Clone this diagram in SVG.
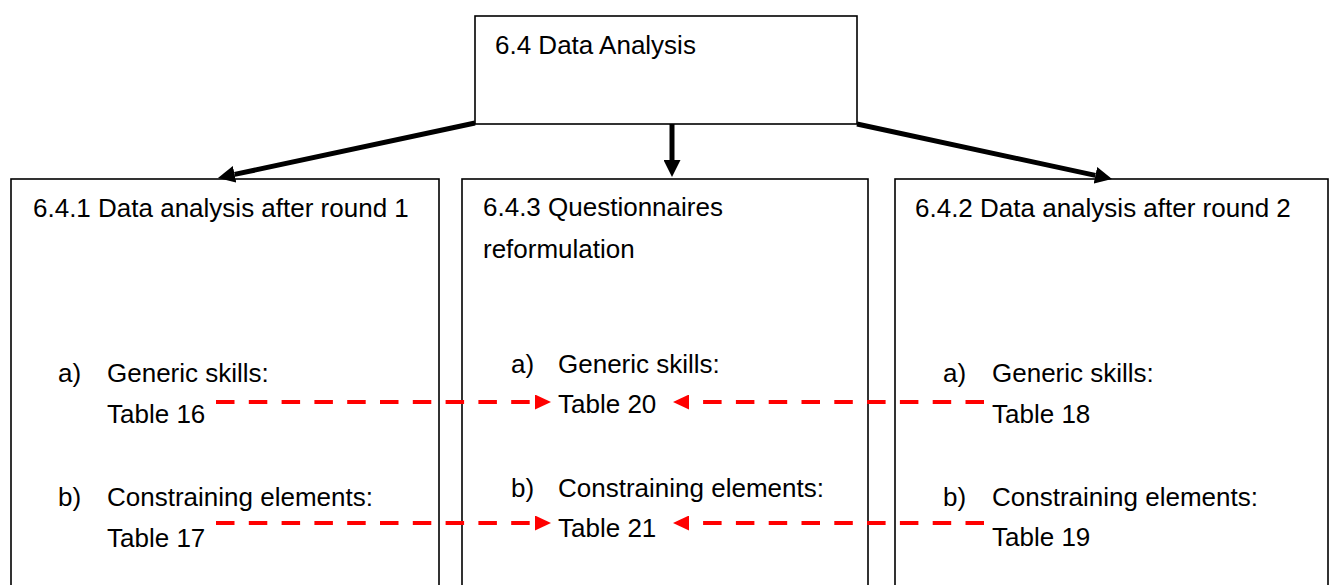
<svg xmlns="http://www.w3.org/2000/svg" width="1330" height="585" viewBox="0 0 1330 585">
<style>
.box{fill:#fff;stroke:#000;stroke-width:1.6}
.t{font-family:"Liberation Sans",Arial,sans-serif;font-size:26px;fill:#000}
.blk{stroke:#000;stroke-width:5;fill:none}
.red{stroke:#f00;stroke-width:4;fill:none;stroke-dasharray:18.5 14.3}
</style>
<defs>
<marker id="ab" markerUnits="userSpaceOnUse" viewBox="0 0 17 17" refX="0" refY="8.5" markerWidth="17" markerHeight="17" orient="auto">
<path d="M0,0 L17,8.5 L0,17 z" fill="#000"/>
</marker>
<marker id="ar" markerUnits="userSpaceOnUse" viewBox="0 0 16 15" refX="0" refY="7.5" markerWidth="16" markerHeight="15" orient="auto">
<path d="M0,0 L16,7.5 L0,15 z" fill="#f00"/>
</marker>
</defs>
<g id="node-top">
<rect class="box" x="475" y="16" width="382" height="108"/>
<text class="t" x="495" y="54">6.4 Data Analysis</text>
</g>
<g id="node-641">
<rect class="box" x="11" y="179" width="428" height="430"/>
<text class="t" x="33" y="217">6.4.1 Data analysis after round 1</text>
<text class="t" x="58" y="382">a)</text>
<text class="t" x="107" y="382">Generic skills:</text>
<text class="t" x="107" y="423">Table 16</text>
<text class="t" x="58" y="506">b)</text>
<text class="t" x="107" y="506">Constraining elements:</text>
<text class="t" x="107" y="547">Table 17</text>
</g>
<g id="node-643">
<rect class="box" x="462" y="179" width="406" height="430"/>
<text class="t" x="483" y="216">6.4.3 Questionnaires</text>
<text class="t" x="483" y="258">reformulation</text>
<text class="t" x="511" y="373">a)</text>
<text class="t" x="558" y="373">Generic skills:</text>
<text class="t" x="558" y="413">Table 20</text>
<text class="t" x="511" y="497">b)</text>
<text class="t" x="558" y="497">Constraining elements:</text>
<text class="t" x="558" y="537">Table 21</text>
</g>
<g id="node-642">
<rect class="box" x="895" y="179" width="433" height="430"/>
<text class="t" x="915" y="217">6.4.2 Data analysis after round 2</text>
<text class="t" x="943" y="382">a)</text>
<text class="t" x="992" y="382">Generic skills:</text>
<text class="t" x="992" y="423">Table 18</text>
<text class="t" x="943" y="506">b)</text>
<text class="t" x="992" y="506">Constraining elements:</text>
<text class="t" x="992" y="546">Table 19</text>
</g>
<g id="connectors">
<line class="blk" x1="475" y1="123" x2="234.6" y2="174.4" marker-end="url(#ab)"/>
<line class="blk" x1="672" y1="124" x2="672" y2="160" marker-end="url(#ab)"/>
<line class="blk" x1="857" y1="124" x2="1095.4" y2="175.4" marker-end="url(#ab)"/>
<path class="red" d="M216,402 L535,402" marker-end="url(#ar)"/>
<path class="red" d="M216,523 L535,523" marker-end="url(#ar)"/>
<path class="red" d="M984,402 L689,402" marker-end="url(#ar)"/>
<path class="red" d="M984,523 L689,523" marker-end="url(#ar)"/>
</g>
</svg>
